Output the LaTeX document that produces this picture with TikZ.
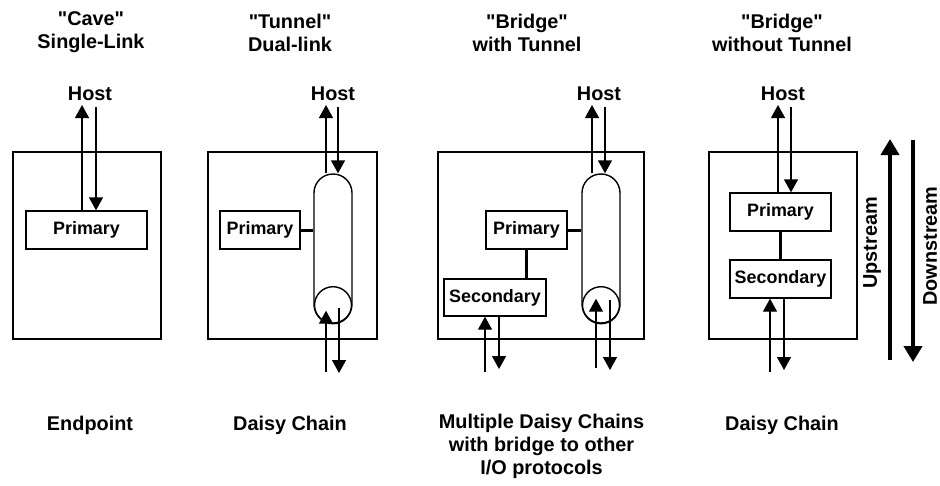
\documentclass[tikz,border=0pt]{standalone}
\usepackage{fontspec}
\setmainfont{Liberation Sans}
\usetikzlibrary{arrows.meta}
\usetikzlibrary{positioning}

\tikzset{
  lbl/.style={font=\bfseries\fontsize{11.3}{13}\selectfont,align=center},
  unit/.style={draw,line width=0.8pt,font=\bfseries\fontsize{10.2}{12}\selectfont,minimum height=0.76cm,inner sep=0pt},
  frame/.style={line width=0.8pt},
  flow/.style={line width=0.8pt,-{Triangle[length=0.26cm,width=0.28cm]}},
  tie/.style={line width=1.7pt},
  tunnel/.style={draw,line width=0.8pt,minimum width=0.76cm,minimum height=2.98cm,rounded corners=0.379cm,inner sep=0pt},
  loop/.style={draw,circle,line width=0.8pt,minimum size=0.74cm,inner sep=0pt},
  stream/.style={line width=2.6pt,-{Triangle[length=0.32cm,width=0.36cm]}}
}
\newcommand{\qt}[1]{\textquotedbl#1\textquotedbl}

\begin{document}
\begin{tikzpicture}[x=0.2cm,y=-0.2cm]
\useasboundingbox (0,0) rectangle (94,48.5);

% cave, single link
\node[lbl] (title1) at (9.1,3.25) {\qt{Cave}\\Single-Link};
\node[lbl] (host1) at (9.0,9.4) {Host};
\draw[frame] (1.3,15.2) rectangle (16.1,33.9);
\node[unit,minimum width=2.42cm] (pri1) at (8.65,23.0) {Primary};
\coordinate (up1) at (8.2,10.5);
\coordinate (dn1) at (9.6,10.7);
\draw[flow] (pri1.north -| up1) -- (up1);
\draw[flow] (dn1) -- (dn1 |- pri1.north);
\node[lbl] (foot1) at (9.0,42.5) {Endpoint};

% tunnel, dual link
\node[lbl] (title2) at (29.0,3.25) {\qt{Tunnel}\\Dual-link};
\node[lbl] (host2) at (33.3,9.4) {Host};
\draw[frame] (20.8,15.2) rectangle (37.7,33.9);
\node[unit,minimum width=1.6cm] (pri2) at (26.0,23.0) {Primary};
\node[tunnel] (tun2) at (33.3,24.85) {};
\node[loop] (loop2) at ([yshift=0.37cm]tun2.south) {};
\draw[tie] (pri2.east) -- (pri2.east -| tun2.west);
\coordinate (up2) at (32.6,10.5);
\coordinate (dn2) at (33.8,10.7);
\draw[flow] (tun2.north -| up2) -- (up2);
\draw[flow] (dn2) -- (dn2 |- tun2.north);
\coordinate (in2) at (32.6,37.2);
\coordinate (out2) at (33.9,37.3);
\draw[flow] (in2) -- ([yshift=-0.11cm]in2 |- loop2.center);
\draw[flow] ([yshift=-0.05cm]out2 |- loop2.center) -- (out2);
\node[lbl] (foot2) at (29.0,42.5) {Daisy Chain};

% bridge with tunnel
\node[lbl] (title3) at (52.7,3.25) {\qt{Bridge}\\with Tunnel};
\node[lbl] (host3) at (59.9,9.4) {Host};
\draw[frame] (43.8,15.2) rectangle (64.4,33.9);
\node[unit,minimum width=1.62cm] (pri3) at (52.65,23.0) {Primary};
\node[unit,minimum width=2.04cm,minimum height=0.74cm] (sec3) at (49.5,29.75) {Secondary};
\node[tunnel] (tun3) at (60.1,24.85) {};
\node[loop] (loop3) at ([yshift=0.37cm]tun3.south) {};
\draw[tie] (pri3.east) -- (pri3.east -| tun3.west);
\draw[tie] (pri3.south) -- (pri3.south |- sec3.north);
\coordinate (up3) at (59.2,10.5);
\coordinate (dn3) at (60.5,10.7);
\draw[flow] (tun3.north -| up3) -- (up3);
\draw[flow] (dn3) -- (dn3 |- tun3.north);
\coordinate (in3) at (59.6,36.8);
\coordinate (out3) at (61.0,37.0);
\draw[flow] (in3) -- ([yshift=0.13cm]in3 |- loop3.center);
\draw[flow] ([yshift=0.1cm]out3 |- loop3.center) -- (out3);
\coordinate (sin3) at (48.5,37.2);
\coordinate (sout3) at (49.9,36.9);
\draw[flow] (sin3) -- (sin3 |- sec3.south);
\draw[flow] (sout3 |- sec3.south) -- (sout3);
\node[lbl] (foot3) at (54.15,44.65) {Multiple Daisy Chains\\with bridge to other\\I/O protocols};

% bridge without tunnel
\node[lbl] (title4) at (78.2,3.25) {\qt{Bridge}\\without Tunnel};
\node[lbl] (host4) at (78.3,9.4) {Host};
\draw[frame] (70.9,15.2) rectangle (85.7,33.9);
\node[unit,minimum width=2.02cm] (pri4) at (78.05,21.2) {Primary};
\node[unit,minimum width=2.02cm] (sec4) at (78.05,27.9) {Secondary};
\draw[tie] (pri4.south) -- (sec4.north);
\coordinate (up4) at (77.8,10.5);
\coordinate (dn4) at (79.1,10.7);
\draw[flow] (pri4.north -| up4) -- (up4);
\draw[flow] (dn4) -- (dn4 |- pri4.north);
\coordinate (in4) at (77.0,37.2);
\coordinate (out4) at (78.4,37.0);
\draw[flow] (in4) -- (in4 |- sec4.south);
\draw[flow] (out4 |- sec4.south) -- (out4);
\node[lbl] (foot4) at (78.2,42.5) {Daisy Chain};

% direction arrows
\coordinate (usrc) at (89.0,36.0);
\coordinate (udst) at (89.0,13.9);
\coordinate (dsrc) at (91.3,14.0);
\coordinate (ddst) at (91.3,36.2);
\draw[stream] (usrc) -- (udst);
\draw[stream] (dsrc) -- (ddst);
\node[lbl,rotate=90] (upl) at (87.2,24.3) {Upstream};
\node[lbl,rotate=90] (dnl) at (93.0,24.6) {Downstream};

\end{tikzpicture}
\end{document}
